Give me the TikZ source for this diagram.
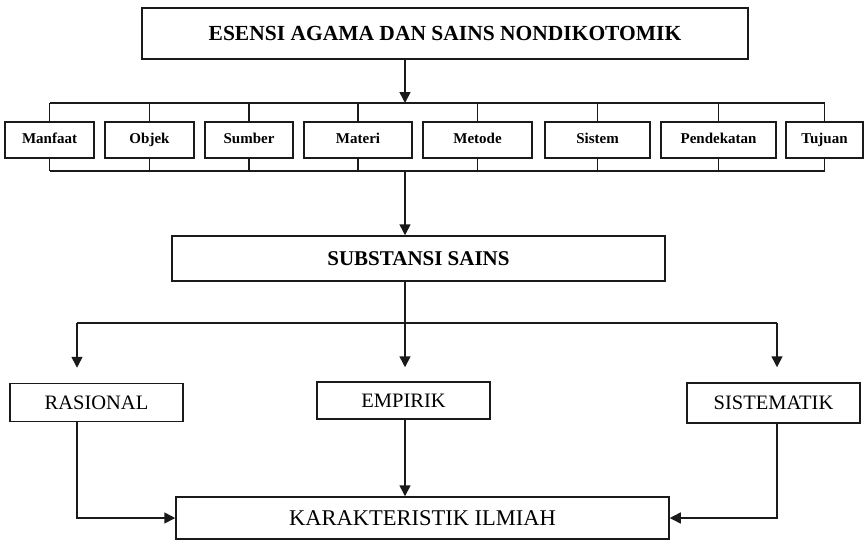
\documentclass[tikz,border=0pt]{standalone}
\usepackage{fontspec}
\setmainfont{Liberation Serif}
\usepackage{xcolor}
\usetikzlibrary{arrows.meta, positioning, calc}
\definecolor{LineBlack}{HTML}{1A1A1A}
\tikzset{
    bigbox/.style={
        draw=LineBlack,
        line width=1.5pt,
        minimum width=#1,
        minimum height=44pt,
        inner sep=0pt,
        font=\fontsize{21}{24}\selectfont\bfseries
    },
    bigbox/.default=490pt,
    itembox/.style={
        draw=LineBlack,
        line width=1.5pt,
        minimum width=#1,
        minimum height=36pt,
        inner sep=0pt,
        text height=10.5pt,
        text depth=3pt,
        font=\fontsize{15}{18}\selectfont\bfseries
    },
    itembox/.default=89pt,
    traitbox/.style={
        draw=LineBlack,
        line width=1.5pt,
        minimum width=#1,
        minimum height=38pt,
        inner sep=0pt,
        font=\fontsize{20.5}{24}\selectfont
    },
    traitbox/.default=173pt,
    line/.style={
        line width=1.5pt,
        LineBlack
    },
    arrow/.style={
        -{Triangle[length=11pt,width=11pt]},
        line width=1.5pt,
        LineBlack
    }
}

\begin{document}
\begin{tikzpicture}[x=1pt, y=-1pt]
        \useasboundingbox (0,0) rectangle (866,542);

        % Top
        \node[bigbox=606pt, minimum height=51pt, font=\fontsize{21.5}{24}\selectfont\bfseries] (esensi) at (445,33.5) {ESENSI AGAMA DAN SAINS NONDIKOTOMIK};

        % Items
        \node[itembox=89pt] (mnf) at (49.5,140) {Manfaat};
        \node[itembox=89pt] (obj) at (149.5,140) {Objek};
        \node[itembox=88pt] (smb) at (249,140) {Sumber};
        \node[itembox=108pt] (mtr) at (358,140) {Materi};
        \node[itembox=109pt] (mtd) at (477.5,140) {Metode};
        \node[itembox=105pt] (sst) at (597.5,140) {Sistem};
        \node[itembox=115pt] (pdk) at (718.5,140) {Pendekatan};
        \node[itembox=77pt] (tuj) at (824.5,140) {Tujuan};

        % Substansi
        \node[bigbox=493pt, minimum height=45pt] (sub) at (418.5,258.5) {SUBSTANSI SAINS};

        % Traits
        \node[traitbox=173pt] (ras) at (96.5,402.5) {RASIONAL};
        \node[traitbox=173pt, minimum height=37pt] (emp) at (403.5,400.5) {EMPIRIK};
        \node[traitbox=173pt, minimum height=40pt] (sis) at (773.5,403) {SISTEMATIK};
        \node[traitbox=493pt, minimum height=42pt, font=\fontsize{22.5}{26}\selectfont] (kar) at (422.5,518) {KARAKTERISTIK ILMIAH};

        % Helper coordinates
        \coordinate (spine) at (405,0);
        \coordinate (colL) at (77,0);
        \coordinate (colR) at (777,0);
        \coordinate (topbus) at (0,103);
        \coordinate (botbus) at (0,171);
        \coordinate (branch) at (0,323);

        % Bus lines
        \draw[line] (topbus -| mnf.north) -- (topbus -| tuj.north);
        \draw[line] (botbus -| mnf.south) -- (botbus -| tuj.south);
        \foreach \n in {mnf,obj,smb,mtr,mtd,sst,pdk,tuj}
            \draw[line] (\n.north) -- (\n.north |- topbus) (\n.south) -- (\n.south |- botbus);

        % Arrows
        \draw[arrow] (esensi.south -| spine) -- (spine |- topbus);
        \draw[arrow] (spine |- botbus) -- (sub.north -| spine);
        \draw[line] (sub.south -| spine) -- (spine |- branch);
        \draw[line] (colL |- branch) -- (colR |- branch);
        \draw[arrow] (colL |- branch) -- ([yshift=15pt]ras.north -| colL);
        \draw[arrow] (spine |- branch) -- ([yshift=14pt]emp.north -| spine);
        \draw[arrow] (colR |- branch) -- ([yshift=15pt]sis.north -| colR);
        \draw[arrow] (ras.south -| colL) |- (kar.west);
        \draw[arrow] (emp.south -| spine) -- (kar.north -| spine);
        \draw[arrow] (sis.south -| colR) |- (kar.east);
\end{tikzpicture}
\end{document}
